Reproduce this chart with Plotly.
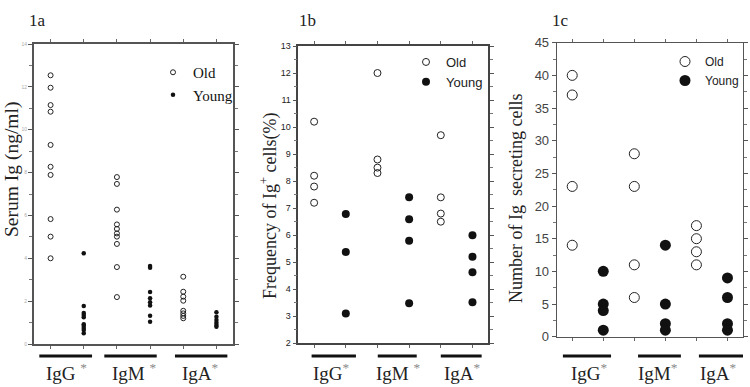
import plotly.graph_objects as go

# ---------------- data ----------------
isotypes = ["IgG", "IgM", "IgA"]
STAR = "<span style='color:#888'><sup>*</sup></span>"
group_labels_a = ["IgG " + STAR, "IgM " + STAR, "IgA" + STAR]
group_labels_b = ["IgG" + STAR, "IgM " + STAR, "IgA" + STAR]
group_labels_c = ["IgG" + STAR, "IgM" + STAR, "IgA" + STAR]

# 1a: Serum Ig (ng/ml)
serum_old = {
    "IgG": [12.54, 11.96, 11.15, 10.84, 9.29, 8.27, 7.89, 5.83, 5.01, 4.0],
    "IgM": [7.79, 7.47, 6.27, 5.58, 5.37, 5.16, 5.01, 4.67, 3.59, 2.19],
    "IgA": [3.14, 2.44, 2.21, 2.02, 1.55, 1.43, 1.31, 1.2],
}
serum_young = {
    "IgG": [4.23, 1.77, 1.45, 1.35, 1.25, 0.92, 0.85, 0.75, 0.65, 0.5],
    "IgM": [3.64, 3.56, 2.43, 2.13, 1.95, 1.8, 1.32, 1.04],
    "IgA": [1.48, 1.27, 1.12, 0.99, 0.89, 0.81],
}
# 1b: Frequency of Ig+ cells (%)
freq_old = {
    "IgG": [10.2, 8.2, 7.8, 7.2],
    "IgM": [12.0, 8.8, 8.5, 8.3],
    "IgA": [9.7, 7.4, 6.8, 6.5],
}
freq_young = {
    "IgG": [6.78, 5.38, 3.1],
    "IgM": [7.4, 6.59, 5.79, 3.48],
    "IgA": [6.0, 5.2, 4.63, 3.52],
}
# 1c: Number of Ig secreting cells
num_old = {
    "IgG": [40, 37, 23, 14],
    "IgM": [28, 23, 11, 6],
    "IgA": [17, 15, 13, 11],
}
num_young = {
    "IgG": [10, 5, 4, 1],
    "IgM": [14, 5, 2, 1],
    "IgA": [9, 6, 2, 1],
}

# ---------------- styling ----------------
SERIF = "Liberation Serif, Times New Roman, serif"
SANS = "Liberation Sans, Arial, sans-serif"
NARROW = "Liberation Sans Narrow, Arial Narrow, Liberation Sans, sans-serif"
W, H = 750, 387

def px2paper_x(px):
    return px / W

def px2paper_y(py):
    return 1 - py / H

panels = [
    dict(xa="x", ya="y", legend="legend", old=serum_old, young=serum_young,
         dom_x=(34, 233), dom_y=(344, 44), yrange=[0, 14], dtick=2, minor=1,
         old_size=5, young_size=4.5, old_lw=1,
         tickfont=dict(family=SANS, size=5, color="#aaa"),
         linecolor="#555", linewidth=2,
         title="1a", title_x=37.5, ylabel="Serum Ig (ng/ml)", ylabel_x=12, ylabel_y=170, ylabel_size=19.5,
         legfont=dict(family=SERIF, size=15, color="#111"), leg_px=(153, 56),
         lines=[(0.66, 2.25), (2.62, 4.2), (4.75, 6.33)], labels=group_labels_a, label_x=[1.48, 3.53, 5.53],
         label_size=19),
    dict(xa="x2", ya="y2", legend="legend2", old=freq_old, young=freq_young,
         dom_x=(298.3, 488.3), dom_y=(343.3, 46), yrange=[2, 13], dtick=1, minor=0.5,
         old_size=7, young_size=8, old_lw=1,
         tickfont=dict(family=SANS, size=9, color="#222"),
         linecolor="#444", linewidth=1.5,
         title="1b", title_x=307.5, ylabel="Frequency of Ig<sup>+</sup> cells(%)", ylabel_x=269, ylabel_y=206, ylabel_size=18,
         legfont=dict(family=SANS, size=13, color="#222"), leg_px=(406, 47),
         lines=[(0.92, 2.32), (3.01, 4.24), (5.0, 6.29)], labels=group_labels_b, label_x=[1.56, 3.65, 5.67],
         label_size=19),
    dict(xa="x3", ya="y3", legend="legend3", old=num_old, young=num_young,
         dom_x=(556.7, 743), dom_y=(336.7, 42.7), yrange=[0, 45], dtick=5, minor=2.5,
         old_size=10, young_size=11, old_lw=1,
         tickfont=dict(family=NARROW, size=13, color="#444"),
         linecolor="#555", linewidth=1,
         title="1c", title_x=560, ylabel="Number of Ig\u00a0\u00a0secreting cells", ylabel_x=516, ylabel_y=199, ylabel_size=18,
         legfont=dict(family=NARROW, size=12, color="#222"), leg_px=(665, 47),
         lines=[(0.70, 2.25), (3.12, 4.5), (5.08, 6.5)], labels=group_labels_c, label_x=[1.57, 3.77, 5.7],
         label_size=19),
]

fig = go.Figure()
layout = dict(
    width=W, height=H, margin=dict(l=0, r=0, t=0, b=0, autoexpand=False),
    paper_bgcolor="white", plot_bgcolor="white", showlegend=True,
)
annotations = []
shapes = []

for i, p in enumerate(panels):
    ox, oy, yx, yy = [], [], [], []
    for k, iso in enumerate(isotypes):
        ov = p["old"][iso]
        yv = p["young"][iso]
        ox += [2 * k + 1] * len(ov)
        oy += ov
        yx += [2 * k + 2] * len(yv)
        yy += yv
    fig.add_trace(go.Scatter(
        x=ox, y=oy, mode="markers", name="Old", xaxis=p["xa"], yaxis=p["ya"], legend=p["legend"],
        marker=dict(symbol="circle-open", size=p["old_size"], color="#222", line=dict(width=p["old_lw"])),
        cliponaxis=False,
    ))
    fig.add_trace(go.Scatter(
        x=yx, y=yy, mode="markers", name="Young", xaxis=p["xa"], yaxis=p["ya"], legend=p["legend"],
        marker=dict(symbol="circle", size=p["young_size"], color="#111"),
        cliponaxis=False,
    ))
    suffix = "" if i == 0 else str(i + 1)
    layout["xaxis" + suffix] = dict(
        domain=[px2paper_x(p["dom_x"][0]), px2paper_x(p["dom_x"][1])],
        range=[0.5, 6.5], anchor=p["ya"], showgrid=False, zeroline=False, automargin=False,
        showline=True, mirror="ticks", linecolor=p["linecolor"], linewidth=p["linewidth"],
        ticks="outside", ticklen=3, tickcolor="#666", tickvals=[1, 2, 3, 4, 5, 6], showticklabels=False,
    )
    layout["yaxis" + suffix] = dict(
        domain=[px2paper_y(p["dom_y"][0]), px2paper_y(p["dom_y"][1])],
        range=p["yrange"], anchor=p["xa"], showgrid=False, zeroline=False, automargin=False,
        showline=True, mirror="ticks", linecolor=p["linecolor"], linewidth=p["linewidth"],
        ticks="outside", ticklen=4, tickcolor="#555", dtick=p["dtick"], tick0=p["yrange"][0],
        tickfont=p["tickfont"],
        minor=dict(dtick=p["minor"], ticks="outside", ticklen=3, tickcolor="#777"),
    )
    layout[p["legend"]] = dict(
        x=px2paper_x(p["leg_px"][0]), y=px2paper_y(p["leg_px"][1]), xanchor="left", yanchor="top",
        bgcolor="rgba(0,0,0,0)", font=p["legfont"], tracegroupgap=0, itemwidth=30,
    )
    # panel title
    annotations.append(dict(text=p["title"], xref="paper", yref="paper", x=px2paper_x(p["title_x"]), y=px2paper_y(20),
                            xanchor="center", yanchor="middle",
                            showarrow=False, font=dict(family=SERIF, size=17, color="#222")))
    # y label
    annotations.append(dict(text=p["ylabel"], xref="paper", yref="paper", x=px2paper_x(p["ylabel_x"]),
                            y=px2paper_y(p["ylabel_y"]), textangle=-90, showarrow=False,
                            xanchor="center", yanchor="middle",
                            font=dict(family=SERIF, size=p["ylabel_size"], color="#222")))
    # group bars and labels
    for (x0, x1), lab, lx in zip(p["lines"], p["labels"], p["label_x"]):
        shapes.append(dict(type="line", xref=p["xa"], yref="paper", x0=x0, x1=x1,
                           y0=px2paper_y(356), y1=px2paper_y(356), line=dict(color="#111", width=3)))
        annotations.append(dict(text=lab, xref=p["xa"], yref="paper", x=lx, y=px2paper_y(386),
                                xanchor="center", yanchor="bottom",
                                showarrow=False, font=dict(family=SERIF, size=p["label_size"], color="#222")))

layout["annotations"] = annotations
layout["shapes"] = shapes
fig.update_layout(**layout)
fig.write_html(
    "out.html",
    config={"displayModeBar": False},
    post_script="document.documentElement.style.margin='0';document.body.style.margin='0';"
                "document.body.style.overflow='hidden';document.documentElement.style.overflow='hidden';",
)
